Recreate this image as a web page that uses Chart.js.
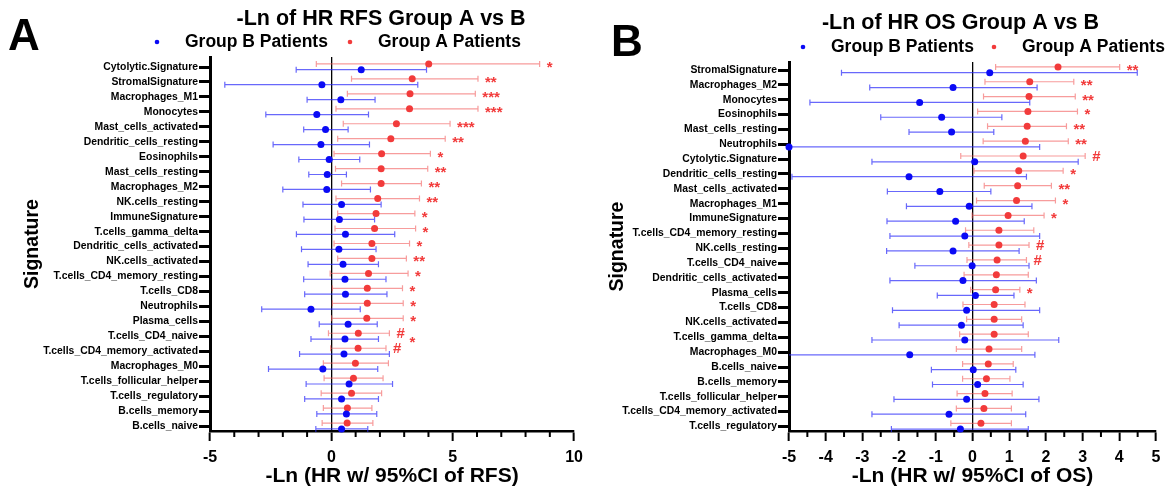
<!DOCTYPE html>
<html>
<head>
<meta charset="utf-8">
<script src="https://cdn.jsdelivr.net/npm/chart.js@4.4.1/dist/chart.umd.min.js"></script>
<style>
  html, body { margin: 0; padding: 0; background: #fff; }
  #wrap { position: relative; width: 1173px; height: 489px; }
  canvas { position: absolute; top: 0; }
  #chartA { left: 0; }
  #chartB { left: 590px; }
</style>
</head>
<body>
<div id="wrap">
  <canvas id="chartA" width="590" height="489"></canvas>
  <canvas id="chartB" width="583" height="489"></canvas>
</div>
<script>
// ---------- Panel A: RFS ----------
const rfsLabels = ['Cytolytic.Signature', 'StromalSignature', 'Macrophages_M1', 'Monocytes',
  'Mast_cells_activated', 'Dendritic_cells_resting', 'Eosinophils', 'Mast_cells_resting',
  'Macrophages_M2', 'NK.cells_resting', 'ImmuneSignature', 'T.cells_gamma_delta',
  'Dendritic_cells_activated', 'NK.cells_activated', 'T.cells_CD4_memory_resting', 'T.cells_CD8',
  'Neutrophils', 'Plasma_cells', 'T.cells_CD4_naive', 'T.cells_CD4_memory_activated',
  'Macrophages_M0', 'T.cells_follicular_helper', 'T.cells_regulatory', 'B.cells_memory', 'B.cells_naive'];
const rfsGroupA   = [4.01, 3.33, 3.24, 3.22, 2.68, 2.45, 2.07, 2.05, 2.05, 1.91, 1.84, 1.78, 1.67, 1.67, 1.53, 1.48, 1.48, 1.46, 1.11, 1.10, 0.99, 0.91, 0.83, 0.66, 0.65];
const rfsGroupALo = [-0.62, 0.83, 0.66, 0.19, 0.49, 0.26, 0.11, 0.17, 0.42, 0.19, 0.26, 0.15, 0.11, 0.26, -0.05, 0.04, 0.04, 0.01, -0.12, -0.03, -0.33, -0.30, -0.42, -0.33, -0.38];
const rfsGroupAHi = [8.58, 6.04, 5.93, 6.04, 4.89, 4.69, 4.08, 3.97, 3.71, 3.63, 3.44, 3.47, 3.22, 3.09, 3.16, 2.93, 2.96, 2.96, 2.39, 2.25, 2.35, 2.13, 2.07, 1.67, 1.71];
const rfsGroupB   = [1.23, -0.39, 0.39, -0.60, -0.24, -0.43, -0.09, -0.17, -0.19, 0.42, 0.33, 0.58, 0.31, 0.48, 0.56, 0.58, -0.84, 0.69, 0.56, 0.52, -0.35, 0.73, 0.42, 0.62, 0.42];
const rfsGroupBLo = [-1.45, -4.39, -1.00, -2.70, -1.14, -2.40, -1.34, -0.93, -2.00, -1.17, -1.13, -1.44, -1.23, -0.96, -1.14, -1.10, -2.87, -0.50, -0.84, -1.31, -2.59, -1.04, -1.10, -0.60, -0.64];
const rfsGroupBHi = [3.92, 3.56, 1.80, 1.53, 0.69, 1.57, 1.17, 0.62, 1.61, 2.05, 1.78, 2.61, 1.84, 1.94, 2.25, 2.29, 1.19, 1.89, 1.94, 2.39, 1.91, 2.52, 1.94, 1.87, 1.50];
const rfsSig = ['*', '**', '***', '***', '***', '**', '*', '**', '**', '**', '*', '*', '*', '**', '*', '*', '*', '*', '#', '#', '', '', '', '', ''];
const rfsExtra = ['', '', '', '', '', '', '', '', '', '', '', '', '', '', '', '', '', '', '*', '', '', '', '', '', ''];
const rfsTicks = [-5, 0, 5, 10];
const rfsMinor = [-4, -3, -2, -1, 1, 2, 3, 4, 6, 7, 8, 9];

// ---------- Panel B: OS ----------
const osLabels = ['StromalSignature', 'Macrophages_M2', 'Monocytes', 'Eosinophils', 'Mast_cells_resting',
  'Neutrophils', 'Cytolytic.Signature', 'Dendritic_cells_resting', 'Mast_cells_activated', 'Macrophages_M1',
  'ImmuneSignature', 'T.cells_CD4_memory_resting', 'NK.cells_resting', 'T.cells_CD4_naive',
  'Dendritic_cells_activated', 'Plasma_cells', 'T.cells_CD8', 'NK.cells_activated', 'T.cells_gamma_delta',
  'Macrophages_M0', 'B.cells_naive', 'B.cells_memory', 'T.cells_follicular_helper',
  'T.cells_CD4_memory_activated', 'T.cells_regulatory'];
const osGroupA   = [2.33, 1.56, 1.54, 1.51, 1.49, 1.44, 1.38, 1.26, 1.23, 1.20, 0.97, 0.72, 0.72, 0.67, 0.65, 0.63, 0.59, 0.59, 0.59, 0.45, 0.43, 0.38, 0.34, 0.31, 0.23];
const osGroupALo = [0.63, 0.34, 0.30, 0.14, 0.41, 0.29, -0.32, 0.04, 0.32, 0.11, -0.01, -0.19, -0.10, -0.15, -0.23, -0.05, -0.26, -0.16, -0.35, -0.44, -0.27, -0.27, -0.42, -0.44, -0.59];
const osGroupAHi = [4.01, 2.76, 2.80, 2.86, 2.56, 2.61, 3.07, 2.47, 2.15, 2.26, 1.95, 1.67, 1.54, 1.47, 1.52, 1.29, 1.43, 1.34, 1.52, 1.34, 1.11, 1.02, 1.08, 1.06, 1.06];
const osGroupB   = [0.47, -0.53, -1.44, -0.84, -0.57, -5.00, 0.06, -1.73, -0.89, -0.09, -0.46, -0.21, -0.53, -0.01, -0.26, 0.08, -0.16, -0.30, -0.21, -1.71, 0.02, 0.14, -0.16, -0.64, -0.33];
const osGroupBLo = [-3.57, -2.80, -4.43, -2.50, -1.73, -8.50, -2.74, -4.92, -2.32, -1.80, -2.33, -2.25, -2.34, -1.57, -2.25, -0.96, -2.18, -2.00, -2.74, -6.00, -1.12, -1.09, -2.14, -2.74, -2.21];
const osGroupBHi = [4.49, 1.76, 1.56, 0.80, 0.58, 1.83, 2.88, 1.47, 0.50, 1.62, 1.41, 1.83, 1.27, 1.54, 1.74, 1.13, 1.83, 1.38, 2.35, 1.70, 1.18, 1.38, 1.81, 1.45, 1.52];
const osSig = ['**', '**', '**', '*', '**', '**', '#', '*', '**', '*', '*', '', '#', '#', '', '*', '', '', '', '', '', '', '', '', ''];
const osExtra = new Array(25).fill('');
const osTicks = [-5, -4, -3, -2, -1, 0, 1, 2, 3, 4, 5];
const osMinor = [-4.5, -3.5, -2.5, -1.5, -0.5, 0.5, 1.5, 2.5, 3.5, 4.5];

const FONT = '"Liberation Sans", Arial, Helvetica, sans-serif';
Chart.defaults.font.family = FONT;

const RED = '#F23B3B', RED_BAR = 'rgba(242,90,90,0.6)';
const BLUE = '#0A0AF5', BLUE_BAR = 'rgba(40,40,250,0.7)';

// error bars, significance marks, minor ticks and panel decorations
const forestPlugin = {
  id: 'forest',
  beforeDatasetsDraw(chart) {
    const {ctx, chartArea: ca, scales: {x, y}} = chart;
    ctx.save();
    ctx.beginPath();
    ctx.rect(ca.left, ca.top - 10, ca.right - ca.left + 10, ca.bottom - ca.top + 20);
    ctx.clip();
    chart.data.datasets.forEach(ds => {
      ctx.strokeStyle = ds.barColor;
      ctx.lineWidth = 1.2;
      ds.data.forEach((p, i) => {
        const py = y.getPixelForValue(p.y);
        const x1 = x.getPixelForValue(ds.lo[i]);
        const x2 = x.getPixelForValue(ds.hi[i]);
        ctx.beginPath();
        ctx.moveTo(x1, py); ctx.lineTo(x2, py);
        ctx.moveTo(x1, py - 3); ctx.lineTo(x1, py + 3);
        ctx.moveTo(x2, py - 3); ctx.lineTo(x2, py + 3);
        ctx.stroke();
      });
    });
    ctx.restore();
  },
  afterDatasetsDraw(chart) {
    const {ctx, scales: {x, y}} = chart;
    const dsA = chart.data.datasets[1], dsB = chart.data.datasets[0];
    ctx.save();
    ctx.fillStyle = RED;
    ctx.font = 'bold 15px ' + FONT;
    ctx.textAlign = 'left';
    ctx.textBaseline = 'alphabetic';
    const mark = (txt, px, py) => {
      const dy = txt[0] === '#' ? 5 : 8;
      ctx.fillText(txt, px, py + dy);
    };
    dsA.sig.forEach((s, i) => {
      if (!s) return;
      mark(s, x.getPixelForValue(dsA.hi[i]) + 7, y.getPixelForValue(dsA.data[i].y));
    });
    dsA.extra.forEach((s, i) => {
      if (!s) return;
      mark(s, x.getPixelForValue(dsA.hi[i]) + 20, y.getPixelForValue(dsB.data[i].y));
    });
    ctx.restore();
  },
  afterDraw(chart, args, opts) {
    const {ctx, chartArea: ca, scales: {x}} = chart;
    ctx.save();
    // minor ticks
    ctx.strokeStyle = '#000';
    ctx.lineWidth = 2;
    opts.minor.forEach(v => {
      const px = x.getPixelForValue(v);
      ctx.beginPath();
      ctx.moveTo(px, ca.bottom);
      ctx.lineTo(px, ca.bottom + 6);
      ctx.stroke();
    });
    // panel letter
    ctx.fillStyle = '#000';
    ctx.textBaseline = 'alphabetic';
    ctx.textAlign = 'left';
    ctx.font = 'bold 44px ' + FONT;
    ctx.fillText(opts.letter, opts.letterX, opts.letterY);
    // title
    ctx.textAlign = 'center';
    ctx.font = 'bold 21.5px ' + FONT;
    ctx.fillText(opts.title, (ca.left + ca.right) / 2 + opts.titleDx, opts.titleY);
    // legend
    ctx.font = 'bold 17.5px ' + FONT;
    ctx.textAlign = 'left';
    ctx.textBaseline = 'middle';
    chart.data.datasets.forEach((ds, k) => {
      const dotX = opts.legendX[k];
      ctx.fillStyle = ds.backgroundColor;
      ctx.beginPath();
      ctx.arc(dotX, opts.legendY, 2.3, 0, Math.PI * 2);
      ctx.fill();
      ctx.fillStyle = '#000';
      ctx.fillText(ds.label, dotX + 28, opts.legendY);
    });
    ctx.restore();
  }
};

function forestChart(id, p) {
  const pts = (vals, off) => vals.map((v, i) => ({x: v, y: i + off}));
  return new Chart(document.getElementById(id), {
    type: 'scatter',
    plugins: [forestPlugin],
    data: {
      datasets: [{
        label: 'Group B Patients',
        data: pts(p.b, 0.18),
        lo: p.bLo, hi: p.bHi,
        backgroundColor: BLUE, barColor: BLUE_BAR,
        pointRadius: 3.5, borderWidth: 0, clip: false
      }, {
        label: 'Group A Patients',
        data: pts(p.a, -0.21),
        lo: p.aLo, hi: p.aHi, sig: p.sig, extra: p.extra,
        backgroundColor: RED, barColor: RED_BAR,
        pointRadius: 3.5, borderWidth: 0, clip: false
      }]
    },
    options: {
      responsive: false,
      animation: false,
      events: [],
      layout: {padding: {top: p.top, right: p.right, left: 0, bottom: 0}},
      plugins: {
        legend: {display: false},
        tooltip: {enabled: false},
        forest: p.decor
      },
      scales: {
        x: {
          type: 'linear', position: 'bottom', min: p.xMin, max: p.xMax,
          afterFit: s => { s.height = 58; },
          afterBuildTicks: s => { s.ticks = p.ticks.map(v => ({value: v})); },
          border: {color: '#000', width: 2.5},
          grid: {
            drawOnChartArea: true,
            color: c => (c.tick && c.tick.value === 0 ? '#000' : 'rgba(0,0,0,0)'),
            lineWidth: 1.3,
            tickColor: '#000', tickLength: 10, tickWidth: 2
          },
          ticks: {color: '#000', font: {size: 16, weight: 'bold'}, padding: 7, maxRotation: 0, autoSkip: false},
          title: {display: true, text: p.xTitle, color: '#000', font: {size: 21, weight: 'bold'}, padding: 0}
        },
        y: {
          type: 'linear', reverse: true, min: p.yMin, max: p.yMax,
          afterFit: s => { s.width = p.left; },
          afterBuildTicks: s => { s.ticks = p.labels.map((_, i) => ({value: i})); },
          border: {color: '#000', width: 3},
          grid: {drawOnChartArea: false, tickColor: '#000', tickLength: 11, tickWidth: 3},
          ticks: {color: '#000', font: {size: 10.4, weight: 'bold'}, padding: 1, autoSkip: false,
                  callback: v => p.labels[v]},
          title: {display: true, text: 'Signature', color: '#000', font: {size: 19.5, weight: 'bold'},
                  padding: {top: p.yTitlePad, bottom: 0}}
        }
      }
    }
  });
}

forestChart('chartA', {
  labels: rfsLabels, a: rfsGroupA, aLo: rfsGroupALo, aHi: rfsGroupAHi,
  b: rfsGroupB, bLo: rfsGroupBLo, bHi: rfsGroupBHi, sig: rfsSig, extra: rfsExtra,
  ticks: rfsTicks, xMin: -5, xMax: 10, yMin: -0.67, yMax: 24.32,
  xTitle: '-Ln (HR w/ 95%CI of RFS)',
  top: 57, right: 12, left: 210, yTitlePad: 21,
  decor: {minor: rfsMinor, letter: 'A', letterX: 8, letterY: 50, title: '-Ln of HR RFS Group A vs B',
          titleDx: -11, titleY: 25, legendX: [157, 350], legendY: 42}
});

forestChart('chartB', {
  labels: osLabels, a: osGroupA, aLo: osGroupALo, aHi: osGroupAHi,
  b: osGroupB, bLo: osGroupBLo, bHi: osGroupBHi, sig: osSig, extra: osExtra,
  ticks: osTicks, xMin: -5, xMax: 5, yMin: -0.54, yMax: 24.31,
  xTitle: '-Ln (HR w/ 95%CI of OS)',
  top: 62, right: 17, left: 199, yTitlePad: 16,
  decor: {minor: osMinor, letter: 'B', letterX: 21, letterY: 56, title: '-Ln of HR OS Group A vs B',
          titleDx: -12, titleY: 29, legendX: [213, 404], legendY: 47}
});
</script>
</body>
</html>
